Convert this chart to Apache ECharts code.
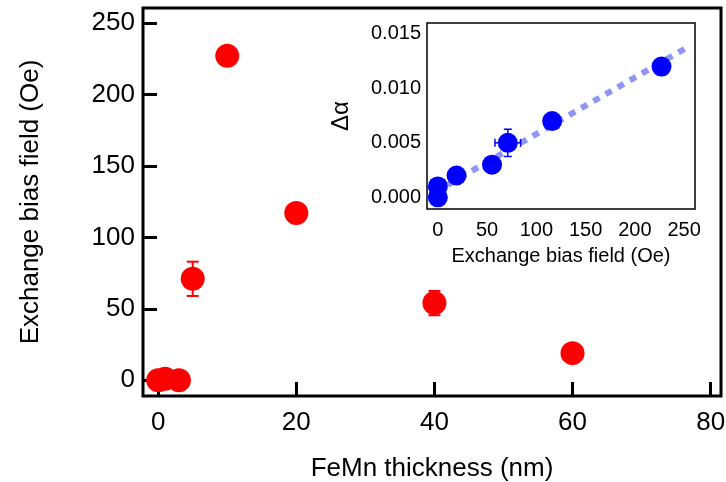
<!DOCTYPE html>
<html>
<head>
<meta charset="utf-8">
<script src="https://cdn.jsdelivr.net/npm/echarts@6/dist/echarts.min.js"></script>
<style>
  html, body { margin: 0; padding: 0; background: #fff; }
  #chart { width: 726px; height: 482px; }
</style>
</head>
<body>
<div id="chart"></div>
<script>
// main panel: exchange bias vs FeMn thickness
var thickness = [0, 1, 3, 5, 10, 20, 40, 60];
var biasField = [0, 1, 0, 71, 227, 117, 54, 19];
var biasErr = [0, 0, 0, 12, 0, 0, 8.5, 0];

// inset: damping change vs exchange bias
var insetBias = [0, 0, 19, 55, 71, 116, 227];
var deltaAlpha = [0, 0.001, 0.002, 0.003, 0.005, 0.007, 0.012];
var insetErrX = [0, 0, 0, 0, 13, 0, 0];
var insetErrY = [0, 0, 0, 0, 0.00125, 0, 0];

// linear fit line (end points)
var fitX = [10, 252];
var fitY = [0.00115, 0.0137];

// tick positions
var mainTicksX = [0, 20, 40, 60, 80];
var mainTicksY = [0, 50, 100, 150, 200, 250];
var insetTicksX = [0, 50, 100, 150, 200, 250];
var insetTicksY = [0, 0.005, 0.01, 0.015];

var FONT = 'Liberation Sans, Arial, sans-serif';

var chart = echarts.init(document.getElementById('chart'));

function pairs(xs, ys) {
  return xs.map(function (x, i) { return [x, ys[i]]; });
}
function triples(xs, ys, ex, ey) {
  var out = [];
  xs.forEach(function (x, i) {
    if (ex[i] || ey[i]) out.push([x, ys[i], ex[i], ey[i]]);
  });
  return out;
}

function errorBars(color, capW, width) {
  return function (params, api) {
    var x = api.value(0), y = api.value(1), ex = api.value(2), ey = api.value(3);
    var kids = [];
    var st = { stroke: color, lineWidth: width };
    if (ey) {
      var top = api.coord([x, y + ey]);
      var bot = api.coord([x, y - ey]);
      kids.push({ type: 'line', shape: { x1: top[0], y1: top[1], x2: bot[0], y2: bot[1] }, style: st });
      kids.push({ type: 'line', shape: { x1: top[0] - capW, y1: top[1], x2: top[0] + capW, y2: top[1] }, style: st });
      kids.push({ type: 'line', shape: { x1: bot[0] - capW, y1: bot[1], x2: bot[0] + capW, y2: bot[1] }, style: st });
    }
    if (ex) {
      var l = api.coord([x - ex, y]);
      var r = api.coord([x + ex, y]);
      kids.push({ type: 'line', shape: { x1: l[0], y1: l[1], x2: r[0], y2: r[1] }, style: st });
      kids.push({ type: 'line', shape: { x1: l[0], y1: l[1] - capW, x2: l[0], y2: l[1] + capW }, style: st });
      kids.push({ type: 'line', shape: { x1: r[0], y1: r[1] - capW, x2: r[0], y2: r[1] + capW }, style: st });
    }
    return { type: 'group', children: kids };
  };
}

function axis(grid, min, max, ticks, opts) {
  return {
    gridIndex: grid, type: 'value', min: min, max: max,
    name: opts.name, nameLocation: 'middle', nameGap: opts.nameGap,
    nameTextStyle: { fontSize: opts.nameSize, fontFamily: FONT, color: '#000' },
    axisLine: { show: false, onZero: false },
    axisTick: { inside: true, length: opts.tickLen, customValues: ticks, lineStyle: { color: '#000', width: opts.tickW } },
    axisLabel: {
      fontSize: opts.labelSize, color: '#000', margin: opts.margin, fontFamily: FONT,
      customValues: ticks, formatter: opts.formatter
    },
    splitLine: { show: false }
  };
}

var option = {
  animation: false,
  backgroundColor: '#fff',
  textStyle: { fontFamily: FONT, color: '#000' },
  grid: [
    { left: 143, right: 5, top: 8, bottom: 86, containLabel: false, outerBoundsMode: 'none',
      show: true, borderColor: '#000', borderWidth: 3, backgroundColor: 'transparent' },
    { left: 427, top: 23, width: 268, height: 186, containLabel: false, outerBoundsMode: 'none',
      show: true, borderColor: '#000', borderWidth: 1.5, backgroundColor: '#fff', z: 5 }
  ],
  xAxis: [
    axis(0, -2.2, 81.5, mainTicksX, { name: 'FeMn thickness (nm)', nameGap: 60, nameSize: 26, tickLen: 14, tickW: 3, labelSize: 26, margin: 14 }),
    axis(1, -11, 261, insetTicksX, { name: 'Exchange bias field (Oe)', nameGap: 37, nameSize: 20, tickLen: 9, tickW: 1.5, labelSize: 20, margin: 11 })
  ],
  yAxis: [
    axis(0, -11, 260.5, mainTicksY, { name: 'Exchange bias field (Oe)', nameGap: 99, nameSize: 26, tickLen: 14, tickW: 3, labelSize: 26, margin: 8 }),
    axis(1, -0.00107, 0.016, insetTicksY, {
      name: 'Δα', nameGap: 74, nameSize: 24, tickLen: 9, tickW: 1.5, labelSize: 20, margin: 6,
      formatter: function (v) { return Number(v).toFixed(3); }
    })
  ],
  series: [
    {
      type: 'custom', xAxisIndex: 0, yAxisIndex: 0, z: 2,
      renderItem: errorBars('#ff0000', 6, 2),
      data: triples(thickness, biasField, biasErr.map(function () { return 0; }), biasErr)
    },
    {
      type: 'scatter', xAxisIndex: 0, yAxisIndex: 0, z: 3,
      symbolSize: 24, itemStyle: { color: '#ff0000', opacity: 1 },
      data: pairs(thickness, biasField)
    },
    {
      type: 'line', xAxisIndex: 1, yAxisIndex: 1, z: 6,
      symbol: 'none',
      lineStyle: { color: '#8f95f5', width: 6, type: [7, 7] },
      data: pairs(fitX, fitY)
    },
    {
      type: 'custom', xAxisIndex: 1, yAxisIndex: 1, z: 7,
      renderItem: errorBars('#0000ff', 4, 1.5),
      data: triples(insetBias, deltaAlpha, insetErrX, insetErrY)
    },
    {
      type: 'scatter', xAxisIndex: 1, yAxisIndex: 1, z: 8,
      symbolSize: 20, itemStyle: { color: '#0000ff', opacity: 1 },
      data: pairs(insetBias, deltaAlpha)
    }
  ]
};

chart.setOption(option);
</script>
</body>
</html>
